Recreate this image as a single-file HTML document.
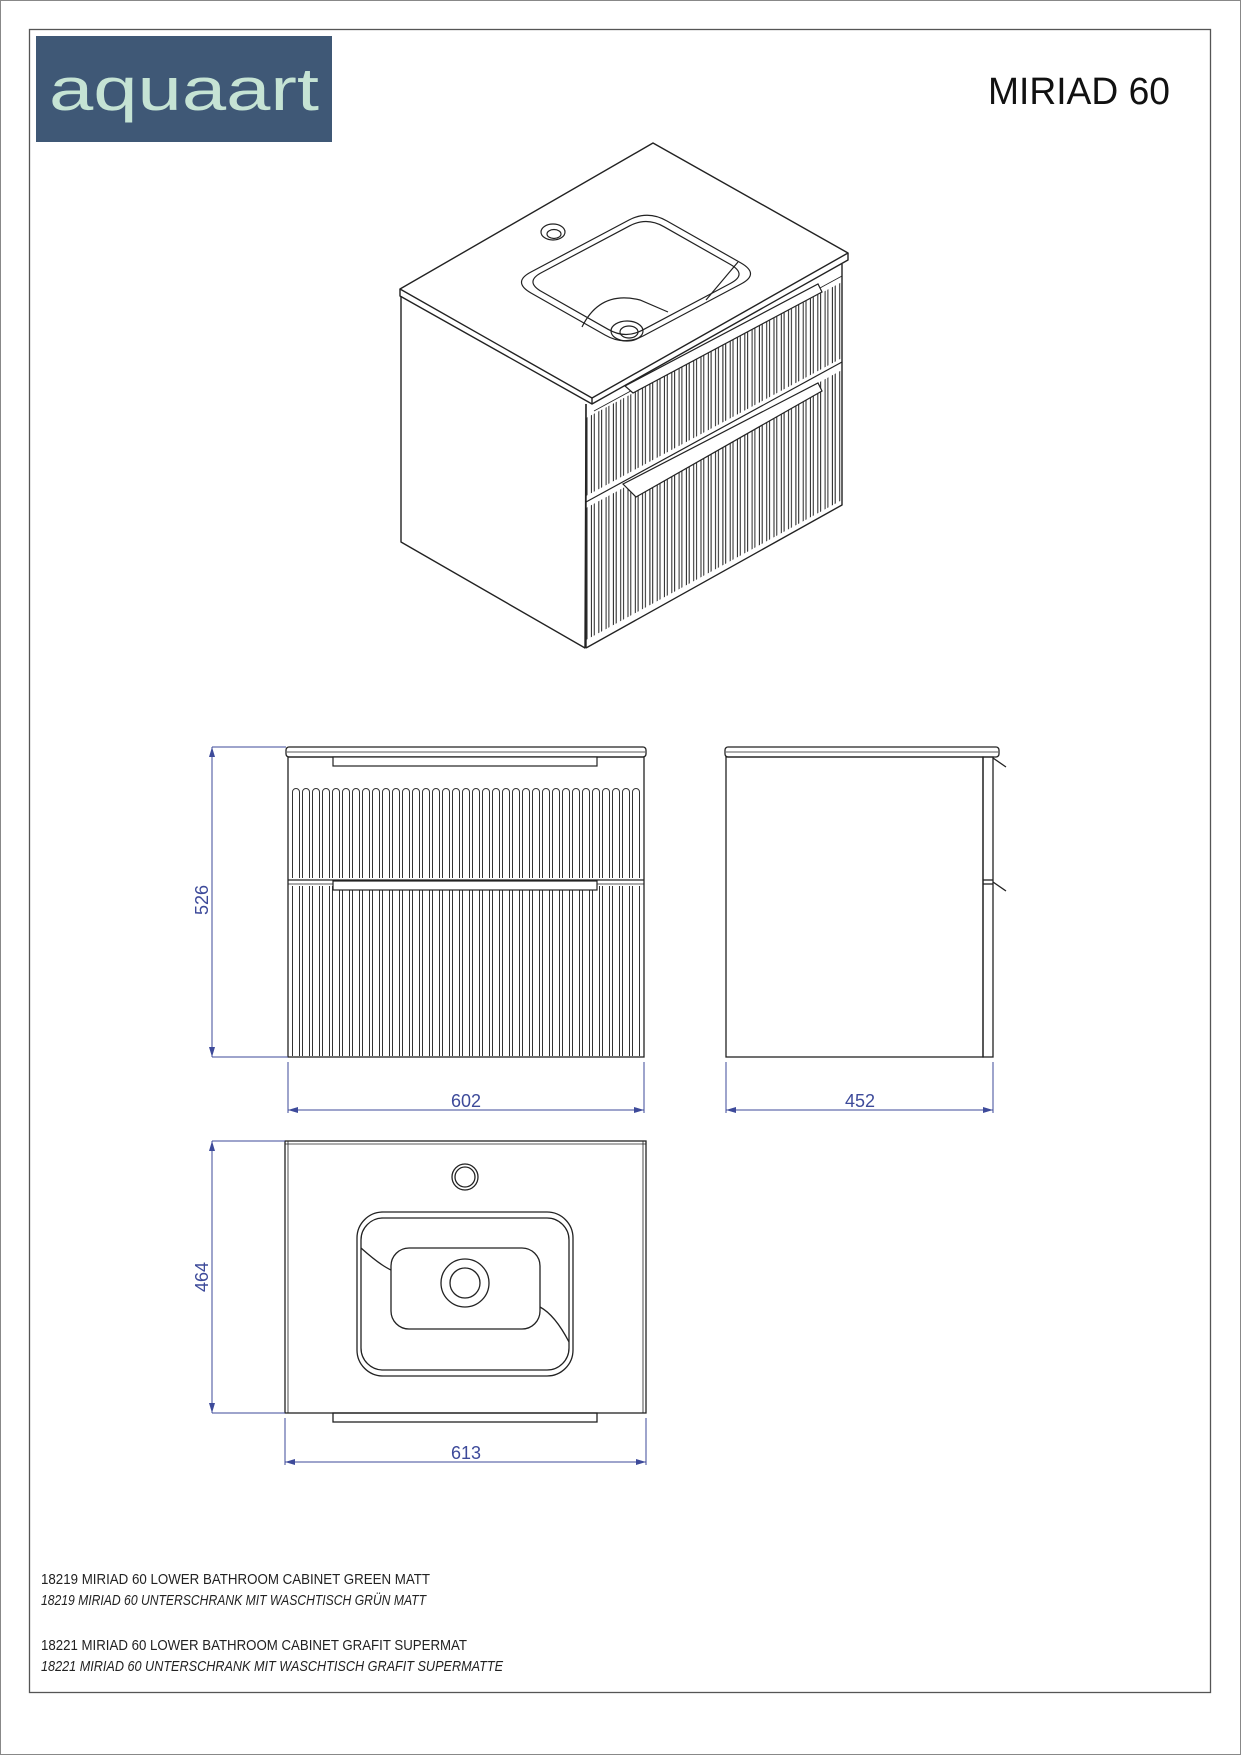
<!DOCTYPE html>
<html><head><meta charset="utf-8"><style>
html,body{margin:0;padding:0;background:#fff}
svg{display:block}
</style></head><body>
<svg width="1241" height="1755" viewBox="0 0 1241 1755" xmlns="http://www.w3.org/2000/svg" font-family="Liberation Sans, sans-serif">
<defs>
<pattern id="fl1" x="291" y="786" width="10" height="300" patternUnits="userSpaceOnUse">
<path d="M1.5 6 V300 M8.5 6 V300 M1.5 6 A3.5 3.5 0 0 1 8.5 6" fill="none" stroke="#333" stroke-width="1"/>
</pattern>
<pattern id="fl2" x="291" y="880" width="10" height="300" patternUnits="userSpaceOnUse">
<path d="M1.5 0 V300 M8.5 0 V300" fill="none" stroke="#333" stroke-width="1"/>
</pattern>
<pattern id="iso" x="586" y="0" width="7.3" height="1000" patternUnits="userSpaceOnUse" patternTransform="skewY(-28.2)">
<path d="M1 0 V1000 M5.5 0 V1000" fill="none" stroke="#222" stroke-width="1"/>
</pattern>
</defs>

<rect x="0.5" y="0.5" width="1240" height="1754" fill="none" stroke="#888" stroke-width="1"/>
<rect x="29.5" y="29.5" width="1181" height="1663" fill="none" stroke="#555" stroke-width="1.3"/>

<!-- logo -->
<rect x="36" y="36" width="296" height="106" fill="#3f5876"/>
<text x="184" y="110" text-anchor="middle" font-size="60" fill="#c5e3d4" textLength="270" lengthAdjust="spacingAndGlyphs">aquaart</text>

<text x="1170" y="104" text-anchor="end" font-size="38" fill="#111" textLength="182" lengthAdjust="spacingAndGlyphs">MIRIAD 60</text>

<!-- isometric -->
<g fill="none" stroke="#222" stroke-width="1.4" stroke-linejoin="round">
<polygon points="653,143 848,253 592,398 400,289" fill="#fff"/>
<path d="M400,289 L400,296 L592,404 L848,260 L848,253"/>
<path d="M592,404 L592,398"/>
<path d="M401,296 L401,542 L585,648 L586,404"/>
<path d="M586,404 L586,648 M842,264 L842,505 L586,648"/>
<path d="M586,502 L842,362" stroke-width="1.2"/>
<path d="M594,411 L842,276" stroke-width="0.8"/>
</g>
<polygon points="586,418 842,282 842,358 586,496" fill="url(#iso)"/>
<polygon points="586,508 842,370 842,500 586,640" fill="url(#iso)"/>
<g fill="#fff" stroke="#222" stroke-width="1.2">
<polygon points="625,386 818,284 822,292 633,393"/>
<polygon points="623,484 818,383 822,391 636,497"/>
</g>
<!-- basin iso -->
<g fill="none" stroke="#222" stroke-width="1.2">
<path id="bas" d="M531,272 L629,220 Q648,210 667,221 L741,263 Q760,274 741,284 L643,336 Q624,346 605,335 L531,293 Q512,282 531,272 Z"/>
<path d="M531,272 L629,220 Q648,210 667,221 L741,263 Q760,274 741,284 L643,336 Q624,346 605,335 L531,293 Q512,282 531,272 Z" transform="translate(636,278) scale(0.9) translate(-636,-278)" vector-effect="non-scaling-stroke"/>
<path d="M582,327 Q600,290 640,300 L668,312 M706,300 L738,262"/>
<ellipse cx="627" cy="331" rx="16" ry="10"/>
<ellipse cx="629" cy="332" rx="9" ry="6"/>
<ellipse cx="553" cy="232" rx="12" ry="8"/>
<ellipse cx="554" cy="234" rx="7" ry="4.5"/>
</g>

<!-- front view -->
<g fill="none" stroke="#222" stroke-width="1.3">
<rect x="286" y="747" width="360" height="10" rx="3" fill="#fff"/>
<line x1="287" y1="752" x2="645" y2="752" stroke-width="0.8"/>
<rect x="288" y="757" width="356" height="300"/>
<line x1="288" y1="880" x2="644" y2="880"/>
<line x1="288" y1="884" x2="644" y2="884" stroke-width="0.7"/>
</g>
<rect x="291" y="786" width="350" height="92" fill="url(#fl1)"/>
<rect x="291" y="886" width="350" height="170" fill="url(#fl2)"/>
<g fill="#fff" stroke="#222" stroke-width="1.2">
<rect x="333" y="757" width="264" height="9"/>
<rect x="333" y="881" width="264" height="9"/>
</g>

<!-- side view -->
<g fill="none" stroke="#222" stroke-width="1.3">
<rect x="725" y="747" width="274" height="10" rx="3" fill="#fff"/>
<line x1="726" y1="752" x2="998" y2="752" stroke-width="0.8"/>
<rect x="726" y="757" width="257" height="300"/>
<rect x="983" y="757" width="10" height="300"/>
<line x1="983" y1="880" x2="993" y2="880"/>
<line x1="983" y1="884" x2="993" y2="884"/>
<path d="M993,758 L1006,767 M993,882 L1006,891"/>
</g>

<!-- top view -->
<g fill="none" stroke="#222" stroke-width="1.3">
<rect x="285" y="1141" width="361" height="272"/>
<line x1="285" y1="1144" x2="646" y2="1144" stroke-width="0.8"/>
<line x1="288" y1="1141" x2="288" y2="1413" stroke-width="0.8"/>
<line x1="643" y1="1141" x2="643" y2="1413" stroke-width="0.8"/>
<rect x="333" y="1413" width="264" height="9"/>
<circle cx="465" cy="1177" r="13"/>
<circle cx="465" cy="1177" r="10"/>
<rect x="357" y="1212" width="216" height="164" rx="26"/>
<rect x="361" y="1218" width="208" height="152" rx="22"/>
<rect x="391" y="1248" width="149" height="81" rx="18"/>
<circle cx="465" cy="1283" r="24"/>
<circle cx="465" cy="1283" r="15"/>
<path d="M361,1248 Q380,1265 391,1270 M540,1307 Q555,1315 569,1342"/>
</g>

<!-- dimensions -->
<g stroke="#3d4a9a" stroke-width="1" fill="none">
<path d="M212,747 V1057 M212,747 H286 M212,1057 H288"/>
<path d="M288,1062 V1113 M644,1062 V1113 M288,1110 H644"/>
<path d="M726,1062 V1113 M993,1062 V1113 M726,1110 H993"/>
<path d="M212,1141 V1413 M212,1141 H285 M212,1413 H285"/>
<path d="M285,1418 V1465 M646,1418 V1465 M285,1462 H646"/>
</g>
<g fill="#3d4a9a">
<path d="M212,747 l-3,10 h6z M212,1057 l-3,-10 h6z"/>
<path d="M288,1110 l10,-3 v6z M644,1110 l-10,-3 v6z"/>
<path d="M726,1110 l10,-3 v6z M993,1110 l-10,-3 v6z"/>
<path d="M212,1141 l-3,10 h6z M212,1413 l-3,-10 h6z"/>
<path d="M285,1462 l10,-3 v6z M646,1462 l-10,-3 v6z"/>
</g>
<g fill="#3d4a9a" font-size="18" text-anchor="middle">
<text transform="translate(208,900) rotate(-90)">526</text>
<text x="466" y="1107">602</text>
<text x="860" y="1107">452</text>
<text transform="translate(208,1277) rotate(-90)">464</text>
<text x="466" y="1459">613</text>
</g>

<!-- text -->
<g fill="#222" font-size="15">
<text x="41" y="1584" textLength="389" lengthAdjust="spacingAndGlyphs">18219 MIRIAD 60 LOWER BATHROOM CABINET GREEN MATT</text>
<text x="41" y="1605" font-style="italic" textLength="385" lengthAdjust="spacingAndGlyphs">18219 MIRIAD 60 UNTERSCHRANK MIT WASCHTISCH GRÜN MATT</text>
<text x="41" y="1650" textLength="426" lengthAdjust="spacingAndGlyphs">18221 MIRIAD 60 LOWER BATHROOM CABINET GRAFIT SUPERMAT</text>
<text x="41" y="1671" font-style="italic" textLength="462" lengthAdjust="spacingAndGlyphs">18221 MIRIAD 60 UNTERSCHRANK MIT WASCHTISCH GRAFIT SUPERMATTE</text>
</g>
</svg>
</body></html>
